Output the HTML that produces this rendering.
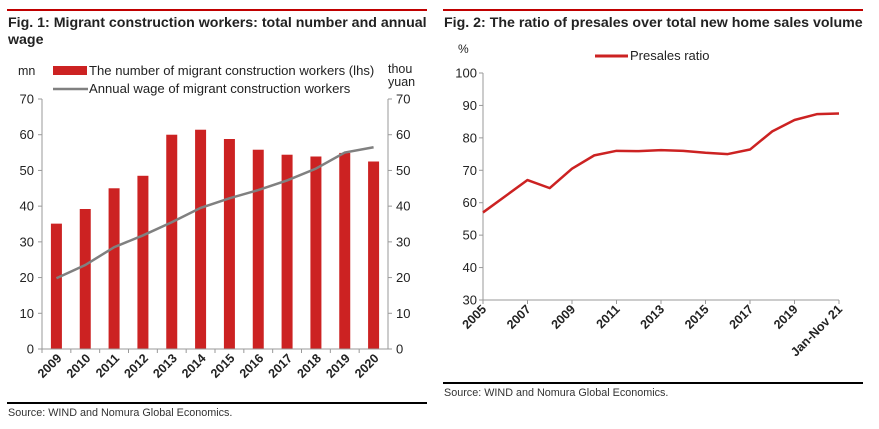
<!DOCTYPE html>
<html><head><meta charset="utf-8"><style>
body{margin:0;background:#fff;width:879px;height:424px;overflow:hidden}
svg{font-family:"Liberation Sans",Arial,sans-serif}
</style></head><body>
<svg id="s" width="879" height="424">
<rect x="7" y="9" width="420" height="2" fill="#c00000"/>
<text x="8" y="27" font-size="14.2" font-weight="bold" fill="#222">Fig. 1: Migrant construction workers: total number and annual</text>
<text x="8" y="44" font-size="14.2" font-weight="bold" fill="#222">wage</text>
<text x="18" y="75" font-size="12.5" fill="#222">mn</text>
<text x="388" y="73" font-size="12.5" fill="#222">thou</text>
<text x="388" y="86" font-size="12.5" fill="#222">yuan</text>
<rect x="53" y="66" width="34" height="9" fill="#cc2222"/>
<text x="89" y="75" font-size="13.1" fill="#222">The number of migrant construction workers (lhs)</text>
<line x1="53" y1="89" x2="88" y2="89" stroke="#808080" stroke-width="2.5"/>
<text x="89" y="93" font-size="13.1" fill="#222">Annual wage of migrant construction workers</text>
<g id="c1"></g>
<rect x="7" y="402" width="420" height="2" fill="#000"/>
<text x="8" y="416" font-size="10.8" fill="#333">Source: WIND and Nomura Global Economics.</text>

<rect x="443" y="9" width="420" height="2" fill="#c00000"/>
<text x="444" y="27" font-size="14.2" font-weight="bold" fill="#222">Fig. 2: The ratio of presales over total new home sales volume</text>
<text x="458" y="53" font-size="12" fill="#222">%</text>
<line x1="595" y1="56" x2="628" y2="56" stroke="#cc2222" stroke-width="3"/>
<text x="630" y="60" font-size="13" fill="#222">Presales ratio</text>
<g id="c2"></g>
<rect x="443" y="382" width="420" height="2" fill="#000"/>
<text x="444" y="396" font-size="10.8" fill="#333">Source: WIND and Nomura Global Economics.</text>
</svg>
<script>
const years1=["2009","2010","2011","2012","2013","2014","2015","2016","2017","2018","2019","2020"];
const workers=[35.1,39.2,45,48.5,60,61.4,58.8,55.8,54.4,53.9,54.9,52.5];
const wages=[19.8,23.5,28.5,31.8,35.5,39.5,42.2,44.5,47.2,50.5,55,56.5];
const ticks1=[0,10,20,30,40,50,60,70];
const years2=["2005","2006","2007","2008","2009","2010","2011","2012","2013","2014","2015","2016","2017","2018","2019","2020","Jan-Nov 21"];
const presales=[57,62,67,64.5,70.5,74.6,76,75.9,76.2,76,75.4,75,76.4,82,85.5,87.3,87.5];
const ticks2=[30,40,50,60,70,80,90,100];
const NS="http://www.w3.org/2000/svg";
function mk(p,t,a){const e=document.createElementNS(NS,t);for(const k in a)e.setAttribute(k,a[k]);p.appendChild(e);return e;}
const g1=document.getElementById('c1');
const L=42,R=388,T=99,B=349;
const y1=v=>B-(v/70)*(B-T);
const bw=(R-L)/years1.length;
const x1=i=>L+bw*(i+0.5);
let e=mk(g1,'line',{x1:L,y1:T,x2:L,y2:B,stroke:'#999'});


e=mk(g1,'line',{x1:R,y1:T,x2:R,y2:B,stroke:'#999'});


ticks1.forEach(t=>{
 mk(g1,'line',{x1:L-4,y1:y1(t),x2:L,y2:y1(t),stroke:'#999'});
 mk(g1,'line',{x1:R,y1:y1(t),x2:R+4,y2:y1(t),stroke:'#999'});
 let a=mk(g1,'text',{x:L-8,y:y1(t)+4.5,'font-size':13,'text-anchor':'end',fill:'#222'});a.textContent=t;
 
 
 let b=mk(g1,'text',{x:R+8,y:y1(t)+4.5,'font-size':13,fill:'#222'});b.textContent=t;
 
 
});
workers.forEach((v,i)=>{
 const r=mk(g1,'rect',{x:x1(i)-5.5,y:y1(v),width:11,height:B-y1(v),fill:'#cc2222'});
 
 
});
e=mk(g1,'line',{x1:L,y1:B,x2:R,y2:B,stroke:'#999'});


years1.forEach((y,i)=>{
 mk(g1,'line',{x1:L+bw*i,y1:B,x2:L+bw*i,y2:B+4,stroke:'#999'});
 const t=mk(g1,'text',{x:x1(i)+6,y:B+10,'font-size':12.5,'font-weight':'bold','text-anchor':'end',fill:'#222',transform:`rotate(-45 ${x1(i)+6} ${B+10})`});
 t.textContent=y;
 
 
});
const wl=mk(g1,'polyline',{points:wages.map((v,i)=>x1(i)+','+y1(v)).join(' '),fill:'none',stroke:'#808080','stroke-width':2.5});


const g2=document.getElementById('c2');
const L2=483,R2=839,T2=73,B2=300;
const y2=v=>B2-((v-30)/70)*(B2-T2);
const x2=i=>L2+(R2-L2)*i/(years2.length-1);
e=mk(g2,'line',{x1:L2,y1:T2,x2:L2,y2:B2,stroke:'#999'});


ticks2.forEach(t=>{
 mk(g2,'line',{x1:L2-4,y1:y2(t),x2:L2,y2:y2(t),stroke:'#999'});
 const a=mk(g2,'text',{x:L2-6,y:y2(t)+4.5,'font-size':13,'text-anchor':'end',fill:'#222'});a.textContent=t;
 
 
});
e=mk(g2,'line',{x1:L2,y1:B2,x2:R2,y2:B2,stroke:'#999'});


years2.forEach((y,i)=>{
 if(i%2)return;
 mk(g2,'line',{x1:x2(i),y1:B2,x2:x2(i),y2:B2+4,stroke:'#999'});
 const t=mk(g2,'text',{x:x2(i)+4,y:B2+10,'font-size':12.5,'font-weight':'bold','text-anchor':'end',fill:'#222',transform:`rotate(-45 ${x2(i)+4} ${B2+10})`});
 t.textContent=y;
 
 
});
const pl=mk(g2,'polyline',{points:presales.map((v,i)=>x2(i)+','+y2(v)).join(' '),fill:'none',stroke:'#cc2222','stroke-width':2.5,'stroke-linejoin':'round'});


</script>
</body></html>
